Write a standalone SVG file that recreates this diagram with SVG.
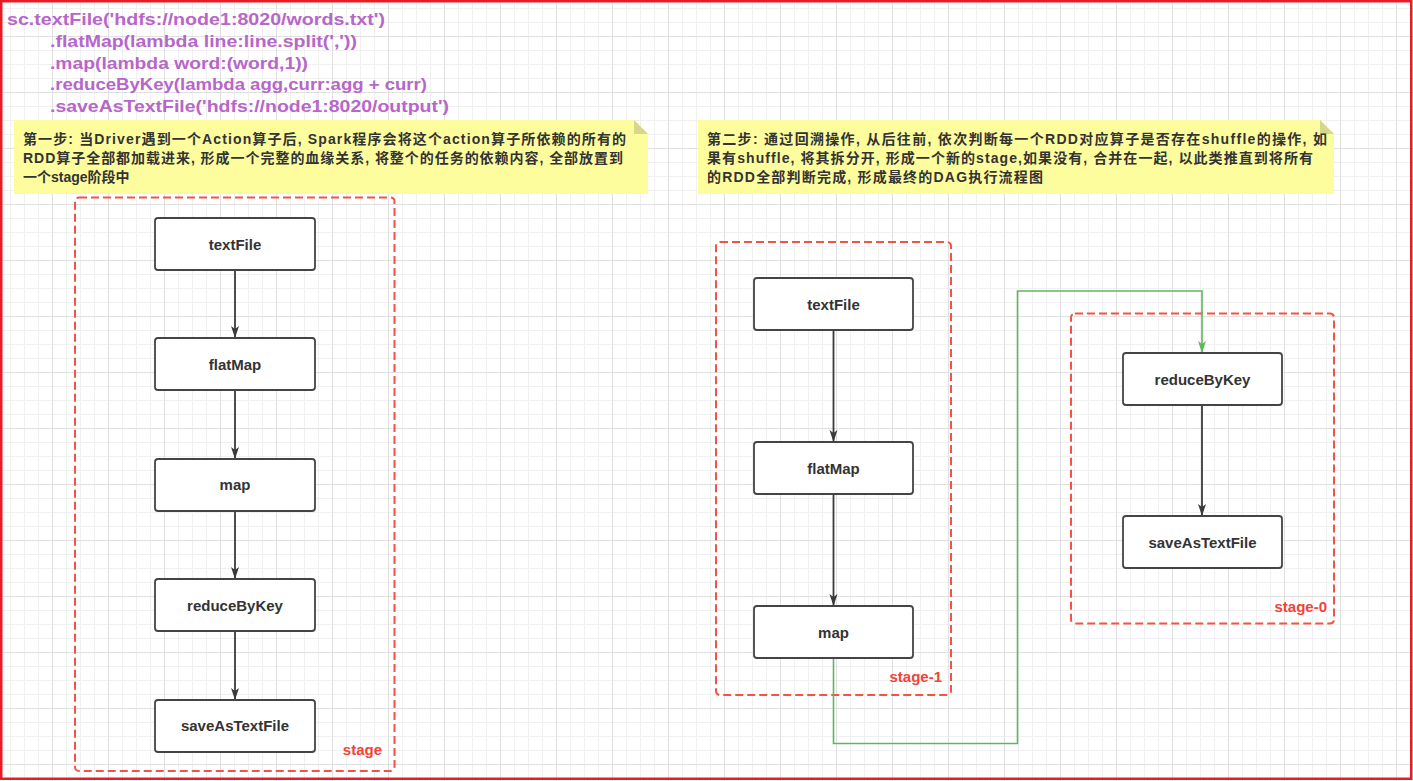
<svg xmlns="http://www.w3.org/2000/svg" width="1413" height="781" viewBox="0 0 1413 781">
<style>
.code{font-family:"Liberation Sans",Arial,sans-serif;font-weight:bold;font-size:17px;fill:#b766c9}
.note{font-family:"Liberation Sans","Noto Sans CJK SC",sans-serif;font-weight:bold;font-size:14px;fill:#333}
.nb{fill:#fdfd9e}
.fold{fill:#d8d58c}
.stage{fill:none;stroke:#f05446;stroke-width:2;stroke-dasharray:8 4}
.sl{font-family:"Liberation Sans",Arial,sans-serif;font-weight:bold;font-size:15px;fill:#f04438;text-anchor:end}
.node rect{fill:#fff;stroke:#444;stroke-width:1.8}
.node text{font-family:"Liberation Sans",Arial,sans-serif;font-weight:bold;font-size:15px;fill:#333;text-anchor:middle}
.edge{fill:none;stroke:#3a3a3a;stroke-width:1.8}
.green{fill:none;stroke:#5cb85c;stroke-width:1.6}
</style>
<defs>
<pattern id="grid" patternUnits="userSpaceOnUse" x="52" y="36" width="56" height="56">
<rect x="0" y="0" width="56" height="56" fill="#fff"/>
<g fill="#f0f0f0">
<rect x="14" y="0" width="1" height="56"/><rect x="28" y="0" width="1" height="56"/><rect x="42" y="0" width="1" height="56"/>
<rect x="0" y="14" width="56" height="1"/><rect x="0" y="28" width="56" height="1"/><rect x="0" y="42" width="56" height="1"/>
</g>
<g fill="#e0e0e0"><rect x="0" y="0" width="1" height="56"/><rect x="0" y="0" width="56" height="1"/></g>
</pattern>
<marker id="ah" markerUnits="userSpaceOnUse" markerWidth="13" markerHeight="10" refX="12" refY="5" orient="auto">
<path d="M0,1 L12,5 L0,9 L3,5 z" fill="#3a3a3a"/>
</marker>
<marker id="ahg" markerUnits="userSpaceOnUse" markerWidth="13" markerHeight="10" refX="12" refY="5" orient="auto">
<path d="M0,1 L12,5 L0,9 L3,5 z" fill="#5cb85c"/>
</marker>
</defs>
<rect x="0" y="0" width="1413" height="781" fill="url(#grid)"/>
<rect x="1.25" y="1.25" width="1410" height="777.5" fill="none" stroke="#e81c24" stroke-width="2.5"/>

<g id="code">
<text class="code" x="7" y="25" textLength="378" lengthAdjust="spacingAndGlyphs">sc.textFile('hdfs://node1:8020/words.txt')</text>
<text class="code" x="50" y="47" textLength="307" lengthAdjust="spacingAndGlyphs">.flatMap(lambda line:line.split(','))</text>
<text class="code" x="50" y="68.5" textLength="258" lengthAdjust="spacingAndGlyphs">.map(lambda word:(word,1))</text>
<text class="code" x="50" y="90" textLength="377" lengthAdjust="spacingAndGlyphs">.reduceByKey(lambda agg,curr:agg + curr)</text>
<text class="code" x="50" y="111.5" textLength="399" lengthAdjust="spacingAndGlyphs">.saveAsTextFile('hdfs://node1:8020/output')</text>
</g>

<g id="note1">
<path class="nb" d="M14,120 H634 L648,134 V194 H14 Z"/>
<path class="fold" d="M634,120 L648,134 H634 Z"/>
<text class="note" x="23" y="144" textLength="603" lengthAdjust="spacing">第一步: 当Driver遇到一个Action算子后, Spark程序会将这个action算子所依赖的所有的</text>
<text class="note" x="23" y="163" textLength="600" lengthAdjust="spacing">RDD算子全部都加载进来, 形成一个完整的血缘关系, 将整个的任务的依赖内容, 全部放置到</text>
<text class="note" x="23" y="182">一个stage阶段中</text>
</g>

<g id="note2">
<path class="nb" d="M698,120 H1320 L1334,134 V194 H698 Z"/>
<path class="fold" d="M1320,120 L1334,134 H1320 Z"/>
<text class="note" x="707" y="144" textLength="620" lengthAdjust="spacing">第二步: 通过回溯操作, 从后往前, 依次判断每一个RDD对应算子是否存在shuffle的操作, 如</text>
<text class="note" x="707" y="163" textLength="606" lengthAdjust="spacing">果有shuffle, 将其拆分开, 形成一个新的stage,如果没有, 合并在一起, 以此类推直到将所有</text>
<text class="note" x="707" y="182" textLength="336" lengthAdjust="spacing">的RDD全部判断完成, 形成最终的DAG执行流程图</text>
</g>

<g id="stage">
<rect class="stage" x="75" y="197.5" width="319.5" height="573.5" rx="4"/>
<text class="sl" x="382" y="755">stage</text>
</g>
<g id="stage-1">
<rect class="stage" x="716" y="242" width="235" height="453" rx="4"/>
<text class="sl" x="942" y="682">stage-1</text>
</g>
<g id="stage-0">
<rect class="stage" x="1071" y="313.5" width="263" height="310" rx="4"/>
<text class="sl" x="1327" y="612">stage-0</text>
</g>

<g id="connectors">
<path class="edge" d="M235,270 V338" marker-end="url(#ah)"/>
<path class="edge" d="M235,390 V459" marker-end="url(#ah)"/>
<path class="edge" d="M235,511 V579" marker-end="url(#ah)"/>
<path class="edge" d="M235,631 V700" marker-end="url(#ah)"/>
<path class="edge" d="M833.5,330 V442" marker-end="url(#ah)"/>
<path class="edge" d="M833.5,494 V606" marker-end="url(#ah)"/>
<path class="edge" d="M1202,405 V516" marker-end="url(#ah)"/>
<path class="green" d="M833.5,658 V743.5 H1017.5 V291 H1202 V353" marker-end="url(#ahg)"/>
</g>

<g id="n-textFile" class="node"><rect x="155" y="218" width="160" height="52" rx="3"/><text x="235" y="249.5">textFile</text></g>
<g id="n-flatMap" class="node"><rect x="155" y="338" width="160" height="52" rx="3"/><text x="235" y="369.5">flatMap</text></g>
<g id="n-map" class="node"><rect x="155" y="459" width="160" height="52" rx="3"/><text x="235" y="490">map</text></g>
<g id="n-reduceByKey" class="node"><rect x="155" y="579" width="160" height="52" rx="3"/><text x="235" y="610.5">reduceByKey</text></g>
<g id="n-saveAsTextFile" class="node"><rect x="155" y="700" width="160" height="52" rx="3"/><text x="235" y="731">saveAsTextFile</text></g>

<g id="s1-textFile" class="node"><rect x="754" y="278" width="159" height="52" rx="3"/><text x="833.5" y="309.5">textFile</text></g>
<g id="s1-flatMap" class="node"><rect x="754" y="442" width="159" height="52" rx="3"/><text x="833.5" y="473.5">flatMap</text></g>
<g id="s1-map" class="node"><rect x="754" y="606" width="159" height="52" rx="3"/><text x="833.5" y="637.5">map</text></g>

<g id="s0-reduceByKey" class="node"><rect x="1123" y="353" width="159" height="52" rx="3"/><text x="1202.5" y="384.5">reduceByKey</text></g>
<g id="s0-saveAsTextFile" class="node"><rect x="1123" y="516" width="159" height="52" rx="3"/><text x="1202.5" y="547.5">saveAsTextFile</text></g>
</svg>
